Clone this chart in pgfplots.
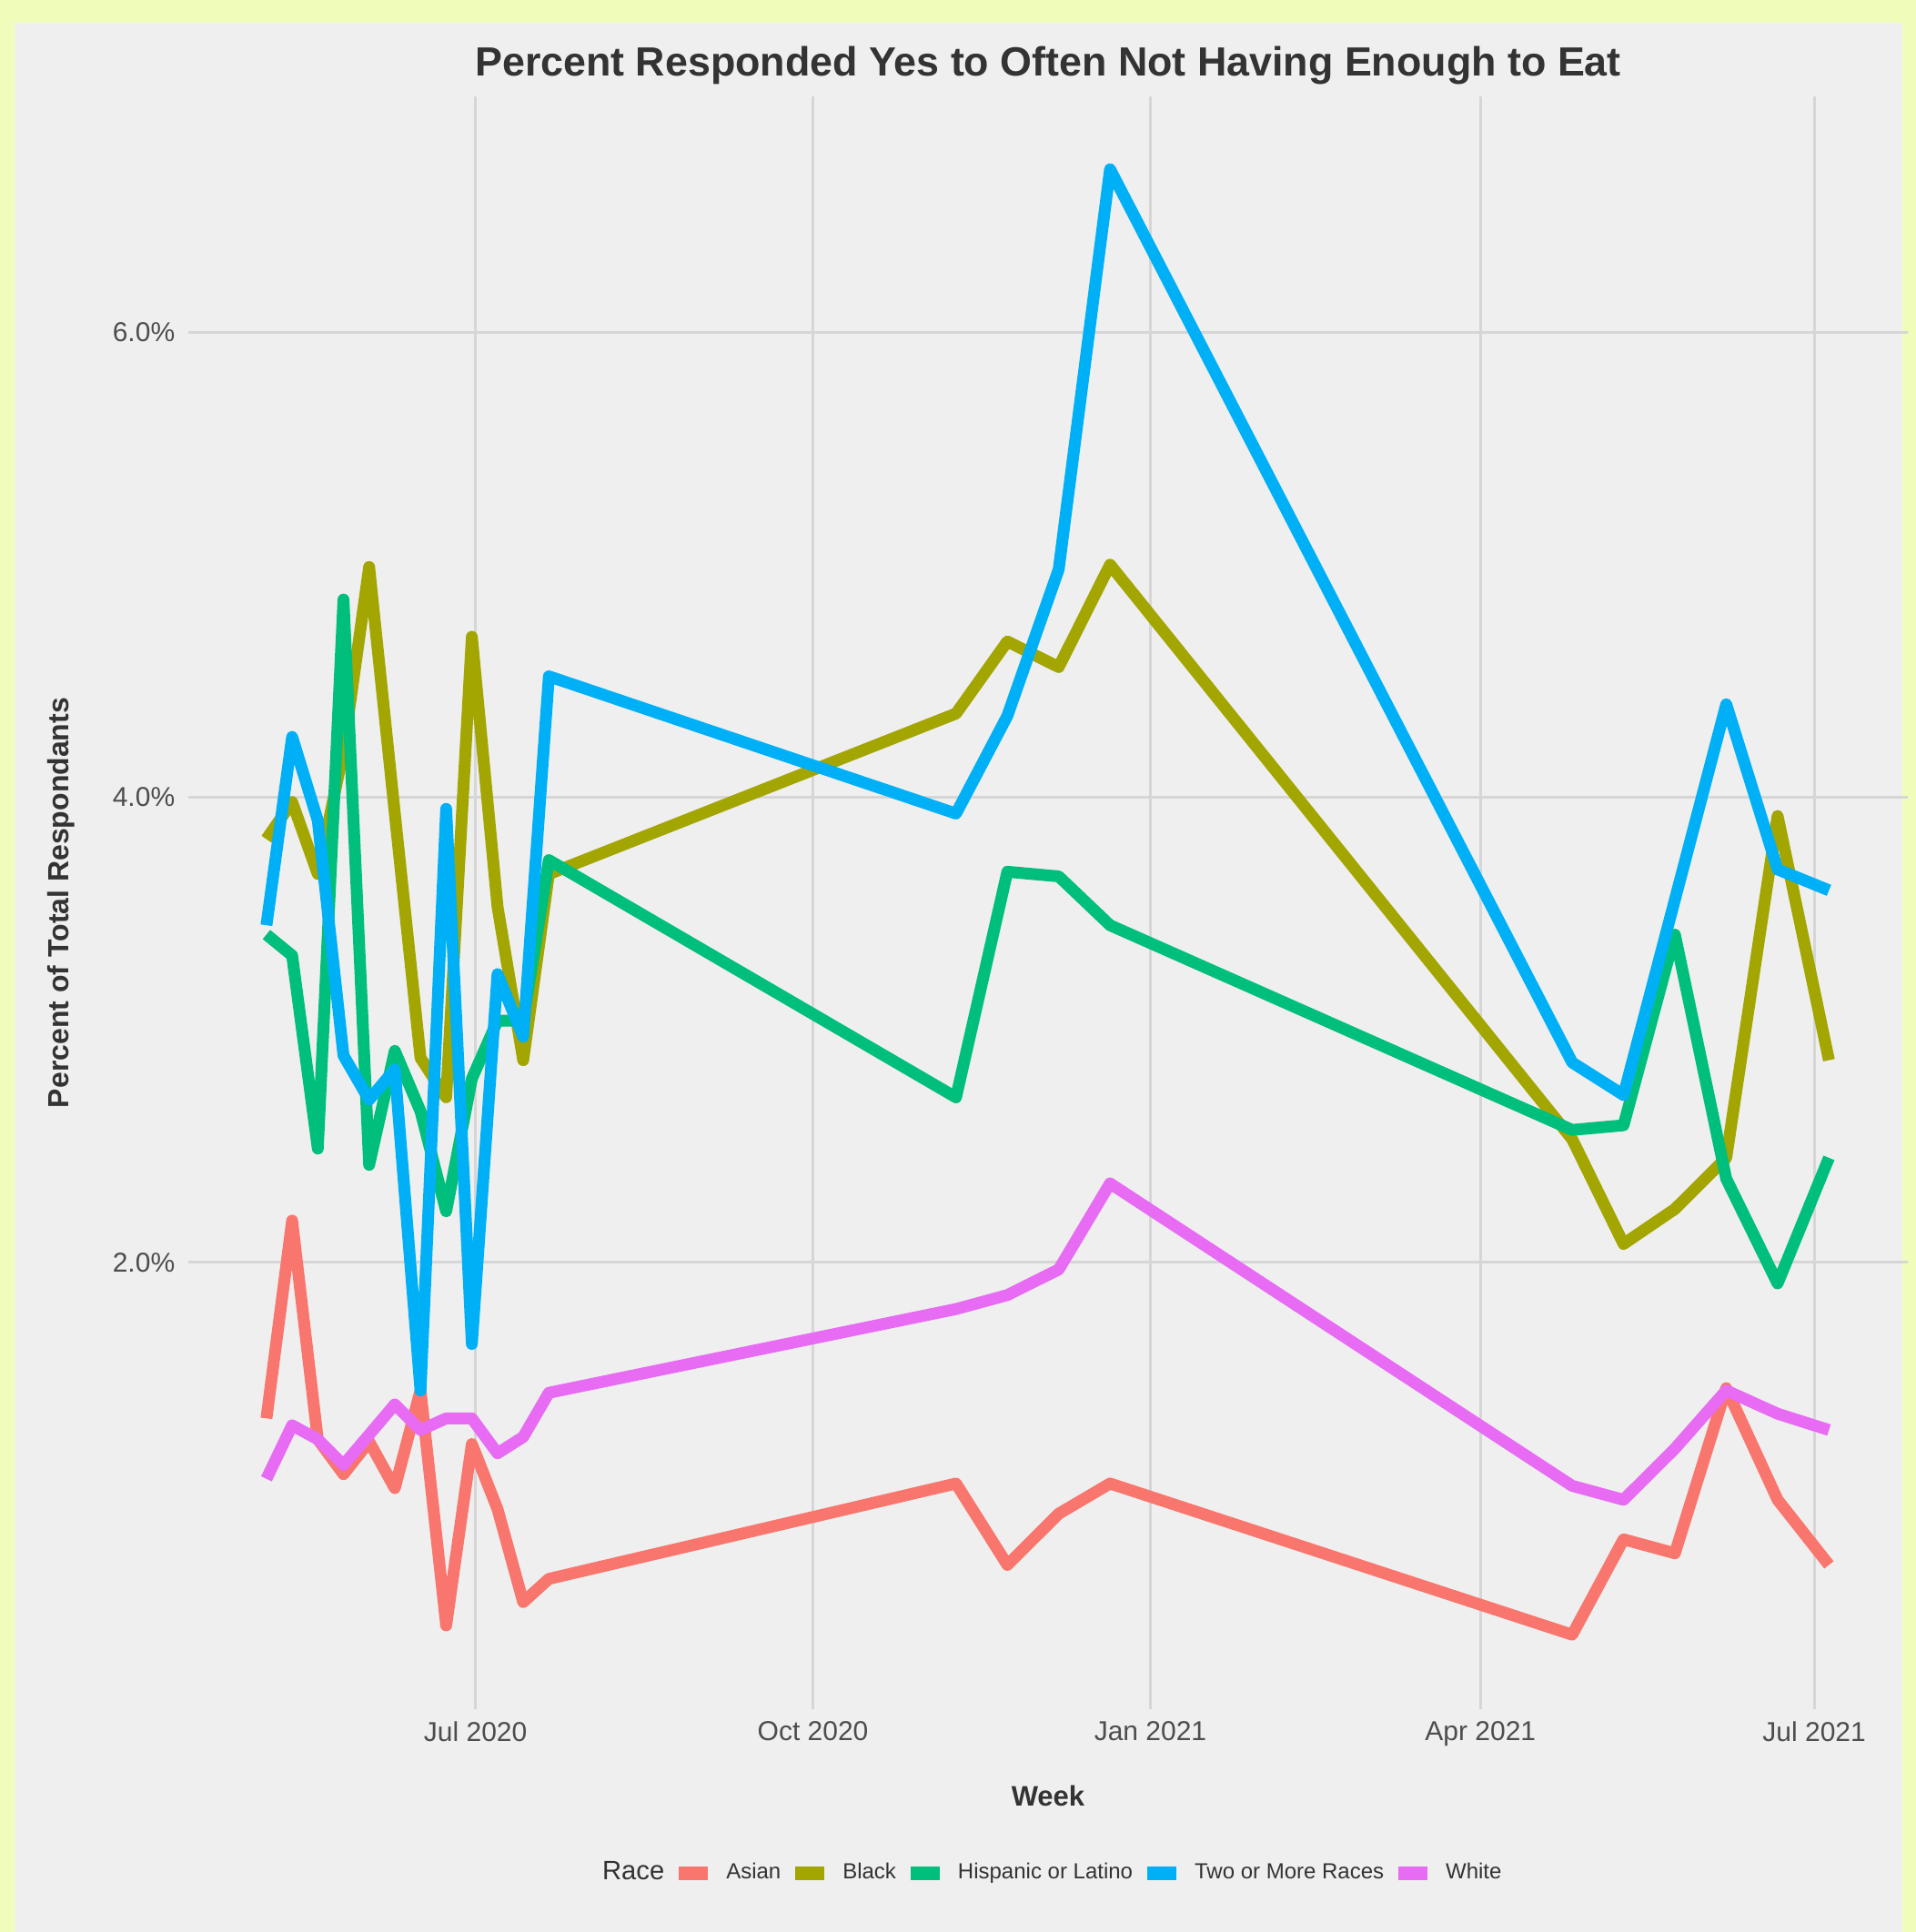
\documentclass[border=0pt]{standalone}
\usepackage{pgfplots}
\pgfplotsset{compat=1.18}
\usepackage{fontspec}
\setmainfont{Liberation Sans}
\definecolor{cAsian}{HTML}{F8766D}
\definecolor{cBlack}{HTML}{A3A500}
\definecolor{cHisp}{HTML}{00BF7D}
\definecolor{cTwo}{HTML}{00B0F6}
\definecolor{cWhite}{HTML}{E76BF3}
\definecolor{ybg}{HTML}{F0FDBA}
\definecolor{gbg}{HTML}{EFEFEF}
\definecolor{gridc}{HTML}{D6D6D6}
\definecolor{tickgray}{HTML}{4D4D4D}
\definecolor{titlegray}{HTML}{333333}
\begin{document}
\begin{tikzpicture}
\fill[ybg] (-51.75pt,-61.25pt) rectangle (474.75pt,469.75pt);
\fill[gbg] (-47.75pt,-61.25pt) rectangle (471pt,463.5pt);
\begin{axis}[
  at={(0pt,0pt)}, anchor=south west,
  scale only axis, width=472.5pt, height=443.25pt,
  xmin=-78.3, xmax=390.5, ymin=0.08, ymax=7.013,
  axis line style={draw=none},
  major tick length=0pt,
  xtick={0,92,184,274,365},
  xticklabels={Jul 2020,Oct 2020,Jan 2021,Apr 2021,Jul 2021},
  ytick={2,4,6}, yticklabels={2.0\%,4.0\%,6.0\%},
  grid=major, major grid style={draw=gridc, line width=0.75pt},
  tick label style={font=\fontsize{7.5}{9}\selectfont, text=tickgray},
  xticklabel style={anchor=north, inner sep=0pt, yshift=-3.2pt},
  yticklabel style={anchor=east, inner sep=0pt, xshift=-3.5pt},
  every axis title shift=0pt,
  title={Percent Responded Yes to Often Not Having Enough to Eat},
  title style={at={(axis description cs:0.5,1.01297)}, anchor=base, font=\bfseries\fontsize{11.2}{13}\selectfont, text=titlegray},
  xlabel={Week},
  xlabel style={at={(axis description cs:0.5,-0.0541)}, anchor=center, font=\bfseries\fontsize{7.75}{9}\selectfont, text=titlegray},
  ylabel={Percent of Total Respondants},
  ylabel style={at={(axis description cs:-0.0742,0.5)}, anchor=center, font=\bfseries\fontsize{8}{9}\selectfont, text=titlegray},
  every axis plot/.append style={line width=3.25pt, line join=round, line cap=butt},
  no markers,
  legend columns=-1,
  legend entries={\fontsize{7.3}{8}\selectfont Race\hspace{1.75pt},Asian,Black,Hispanic or Latino,Two or More Races,White},
  legend style={at={(axis description cs:0.497,-0.102)}, anchor=center, draw=none, fill=none,
    font=\fontsize{6}{7}\selectfont, text=titlegray, column sep=0pt, nodes={inner sep=0pt},
    /tikz/every odd column/.append style={column sep=5pt},
    /tikz/every even column/.append style={column sep=4pt}},
  legend image code/.code={\path[fill, draw=none] (0pt,-1.875pt) rectangle (8pt,1.875pt);},
]
\addlegendimage{empty legend}
% Asian
\addplot[color=cAsian] coordinates {
(-57,1.33) (-50,2.18) (-43,1.24) (-36,1.09) (-29,1.23) (-22,1.03) (-15,1.45) (-8,0.44) (-1,1.22) (6,0.94) (13,0.54) (20,0.64)
(131,1.05) (145,0.70) (159,0.92) (173,1.05)
(299,0.40) (313,0.81) (327,0.75) (341,1.46) (355,0.98) (369,0.70)};
% Black
\addplot[color=cBlack] coordinates {
(-57,3.82) (-50,3.98) (-43,3.67) (-36,4.20) (-29,4.99) (-22,3.93) (-15,2.88) (-8,2.71) (-1,4.69) (6,3.53) (13,2.87) (20,3.67)
(131,4.36) (145,4.67) (159,4.56) (173,5.00)
(299,2.53) (313,2.08) (327,2.23) (341,2.45) (355,3.92) (369,2.87)};
% Hispanic or Latino
\addplot[color=cHisp] coordinates {
(-57,3.41) (-50,3.32) (-43,2.49) (-36,4.85) (-29,2.42) (-22,2.91) (-15,2.65) (-8,2.22) (-1,2.79) (6,3.04) (13,3.04) (20,3.73)
(131,2.71) (145,3.68) (159,3.66) (173,3.45)
(299,2.57) (313,2.59) (327,3.41) (341,2.36) (355,1.91) (369,2.45)};
% Two or More Races
\addplot[color=cTwo] coordinates {
(-57,3.45) (-50,4.26) (-43,3.90) (-36,2.89) (-29,2.70) (-22,2.83) (-15,1.45) (-8,3.95) (-1,1.65) (6,3.24) (13,2.97) (20,4.52)
(131,3.93) (145,4.35) (159,4.98) (173,6.70)
(299,2.86) (313,2.72) (327,3.56) (341,4.40) (355,3.69) (369,3.60)};
% White
\addplot[color=cWhite] coordinates {
(-57,1.07) (-50,1.30) (-43,1.24) (-36,1.13) (-29,1.26) (-22,1.39) (-15,1.28) (-8,1.33) (-1,1.33) (6,1.18) (13,1.25) (20,1.44)
(131,1.80) (145,1.86) (159,1.97) (173,2.34)
(299,1.04) (313,0.98) (327,1.20) (341,1.45) (355,1.35) (369,1.28)};
\end{axis}
\end{tikzpicture}
\end{document}
